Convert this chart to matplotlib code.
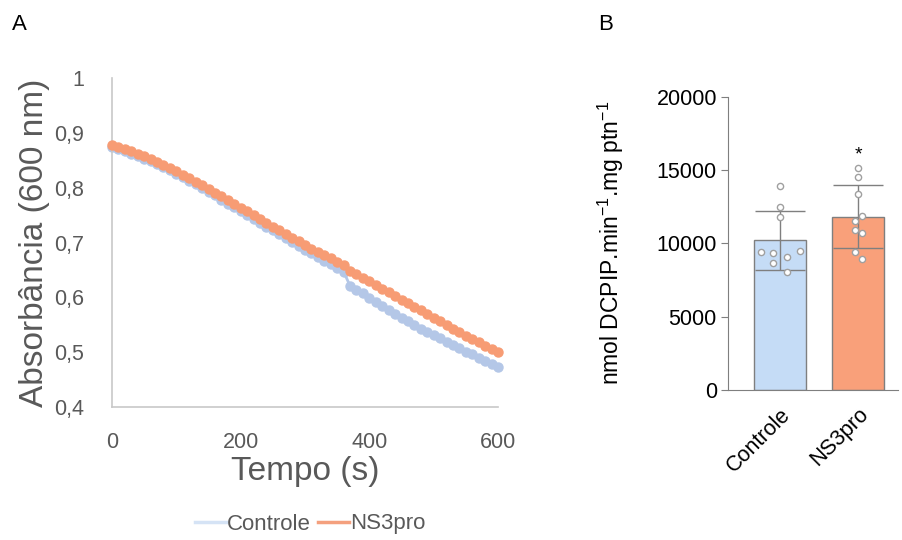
import matplotlib
matplotlib.use("Agg")
import matplotlib.pyplot as plt
from matplotlib.lines import Line2D
import numpy as np

plt.rcParams['font.family'] = ['Liberation Sans', 'DejaVu Sans']

# panel A data: absorbance every 10 s
tempo = list(range(0, 601, 10))
controle_abs = [0.875, 0.871, 0.866, 0.862, 0.857, 0.853, 0.848, 0.843, 0.838, 0.832,
                0.825, 0.819, 0.813, 0.806, 0.800, 0.793, 0.786, 0.778, 0.771, 0.764,
                0.757, 0.750, 0.743, 0.736, 0.729, 0.722, 0.715, 0.708, 0.700, 0.693,
                0.687, 0.680, 0.673, 0.667, 0.660, 0.653, 0.647, 0.621, 0.614, 0.607,
                0.599, 0.592, 0.585, 0.577, 0.570, 0.563, 0.556, 0.550, 0.543, 0.537,
                0.531, 0.525, 0.519, 0.513, 0.507, 0.501, 0.496, 0.490, 0.484, 0.478,
                0.473]
ns3pro_abs = [0.878, 0.875, 0.870, 0.866, 0.861, 0.857, 0.852, 0.847, 0.842, 0.836,
              0.830, 0.824, 0.818, 0.811, 0.805, 0.798, 0.791, 0.784, 0.777, 0.770,
              0.763, 0.757, 0.750, 0.743, 0.736, 0.729, 0.722, 0.715, 0.708, 0.702,
              0.696, 0.689, 0.683, 0.677, 0.671, 0.665, 0.659, 0.648, 0.642, 0.636,
              0.629, 0.622, 0.616, 0.609, 0.602, 0.595, 0.589, 0.582, 0.576, 0.569,
              0.563, 0.556, 0.550, 0.543, 0.537, 0.530, 0.524, 0.518, 0.512, 0.506,
              0.501]

# panel B data
grupos = ["Controle", "NS3pro"]
medias = [10200, 11820]
desvios = [2000, 2140]
pontos_controle = [13900, 12480, 11770, 9410, 9360, 9090, 9500, 8660, 8020]
pontos_ns3pro = [15160, 14520, 13390, 11860, 11500, 10890, 10700, 9430, 8930]
# horizontal jitter of the dots (layout only)
jit_controle = [0, 0, 0, -0.25, -0.085, 0.085, 0.25, -0.085, 0.085]
jit_ns3pro = [0, 0, 0, 0.05, -0.04, -0.04, 0.05, -0.04, 0.05]

gray = "#595959"
c_blue = "#B4C7E7"
c_orange = "#F79C74"

fig = plt.figure(figsize=(9.02, 5.4), dpi=100)

# ---- panel A ----
ax = fig.add_axes([112/902, 133/540, 386/902, 329/540])
ax.plot(tempo, controle_abs, color=c_blue, marker='o', ms=6.5, lw=2, clip_on=False, zorder=2)
ax.plot(tempo, ns3pro_abs, color=c_orange, marker='o', ms=6.5, lw=2, clip_on=False, zorder=3)
ax.set_xlim(0, 600)
ax.set_ylim(0.4, 1.0)
ax.set_xticks([0, 200, 400, 600])
ax.set_yticks(np.arange(0.4, 1.01, 0.1))
ax.set_yticklabels(["0,4", "0,5", "0,6", "0,7", "0,8", "0,9", "1"])
ax.tick_params(length=0, labelsize=15.5, labelcolor=gray)
ax.tick_params(axis='y', pad=20)
ax.tick_params(axis='x', pad=18)
for s in ["top", "right"]:
    ax.spines[s].set_visible(False)
for s in ["left", "bottom"]:
    ax.spines[s].set_color("#C8C8C8")
    ax.spines[s].set_linewidth(1.2)
ax.set_ylabel("Absorbância (600 nm)", fontsize=24, color=gray)
ax.yaxis.set_label_coords(-0.16, 0.5)
ax.set_xlabel("Tempo (s)", fontsize=24, color=gray)
ax.xaxis.set_label_coords(0.5, -0.15)

handles = [Line2D([], [], color="#D5E3F5", lw=2.5), Line2D([], [], color="#F4A07E", lw=2.5)]
fig.legend(handles, ["Controle", "NS3pro"], loc='center', bbox_to_anchor=(310/902, 1 - 524/540),
           ncol=2, frameon=False, fontsize=16, labelcolor=gray, handlelength=1.4,
           handletextpad=0.05, columnspacing=0.3)

fig.text(12/902, 1 - 25/540, "A", fontsize=16, va='center')
fig.text(598/902, 1 - 25/540, "B", fontsize=16, va='center')

# ---- panel B ----
bx = fig.add_axes([728/902, 150/540, 170/902, 293.3/540])
xpos = np.arange(len(grupos))
bx.bar(xpos, medias, width=0.66, color=["#C5DCF6", "#F9A07A"], edgecolor="#7F7F7F",
       linewidth=1, zorder=1)
bx.errorbar(xpos, medias, yerr=desvios, fmt='none', ecolor="#7F7F7F", elinewidth=1,
            capsize=18, capthick=1, zorder=2)
bx.scatter(xpos[0] + np.array(jit_controle), pontos_controle, s=20, facecolor='white',
           edgecolor="#A0A0A0", linewidth=1, zorder=3)
bx.scatter(xpos[1] + np.array(jit_ns3pro), pontos_ns3pro, s=20, facecolor='white',
           edgecolor="#A0A0A0", linewidth=1, zorder=3)
bx.text(xpos[1], 16000, "*", ha='center', va='center', fontsize=14)
bx.set_xlim(-0.667, 1.51)
bx.set_ylim(0, 20000)
bx.set_yticks([0, 5000, 10000, 15000, 20000])
bx.set_xticks(xpos)
bx.set_xticklabels(grupos, rotation=45, ha='right', va='top', rotation_mode='anchor')
bx.tick_params(axis='x', length=0, labelsize=15.5, pad=10)
bx.tick_params(axis='y', length=5, color="#7F7F7F", labelsize=15.5, pad=3)
for s in ["top", "right"]:
    bx.spines[s].set_visible(False)
for s in ["left", "bottom"]:
    bx.spines[s].set_color("#7F7F7F")
bx.set_ylabel(r"nmol DCPIP.min$^{\mathregular{-1}}$.mg ptn$^{\mathregular{-1}}$", fontsize=16.5)
bx.yaxis.set_label_coords(-0.6, 0.5)

fig.savefig("out.png", dpi=100)
